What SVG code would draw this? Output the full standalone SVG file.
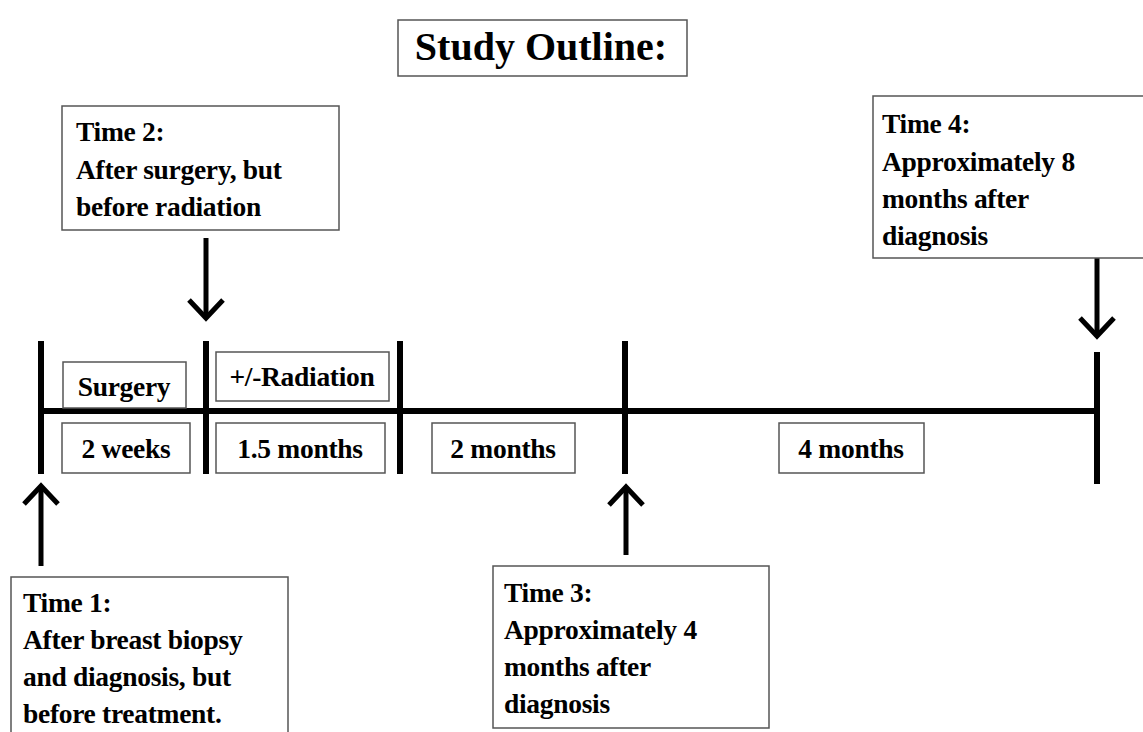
<svg xmlns="http://www.w3.org/2000/svg" width="1143" height="732" viewBox="0 0 1143 732">
<style>
.box{fill:#fff;stroke:#555;stroke-width:1.5}
.t{font-family:"Liberation Serif","Times New Roman",serif;font-weight:bold;fill:#000;font-size:27.5px;letter-spacing:-0.3px}
.c{text-anchor:middle}
.tl{stroke:#000;stroke-width:6;fill:none}
.ar{stroke:#000;stroke-width:5;fill:none;stroke-linejoin:miter}
</style>
<rect width="1143" height="732" fill="#fff"/>
<g id="title">
<rect class="box" x="398" y="20" width="289" height="56"/>
<text class="t c" x="541" y="60" style="font-size:40px;letter-spacing:0">Study Outline:</text>
</g>
<g id="connectors">
<line class="tl" x1="38" y1="411" x2="1097" y2="411"/>
<line class="tl" x1="41" y1="341" x2="41" y2="474"/>
<line class="tl" x1="206" y1="341" x2="206" y2="474"/>
<line class="tl" x1="400" y1="341" x2="400" y2="474"/>
<line class="tl" x1="625" y1="341" x2="625" y2="474"/>
<line class="tl" x1="1097" y1="352" x2="1097" y2="484"/>
<line class="ar" x1="41" y1="566" x2="41" y2="487"/>
<polyline class="ar" points="24,504 41,486 58,504"/>
<line class="ar" x1="206" y1="238" x2="206" y2="317"/>
<polyline class="ar" points="189,300 206,318 223,300"/>
<line class="ar" x1="626" y1="555" x2="626" y2="488"/>
<polyline class="ar" points="609,505 626,487 643,505"/>
<line class="ar" x1="1097" y1="258" x2="1097" y2="335"/>
<polyline class="ar" points="1080,318 1097,336 1114,318"/>
</g>
<g id="surgery">
<rect class="box" x="63" y="362" width="123" height="46"/>
<text class="t c" x="124" y="396">Surgery</text>
</g>
<g id="radiation">
<rect class="box" x="216" y="352" width="173" height="49"/>
<text class="t c" x="302" y="386">+/-Radiation</text>
</g>
<g id="d1">
<rect class="box" x="62" y="423" width="128" height="50"/>
<text class="t c" x="126" y="458">2 weeks</text>
</g>
<g id="d2">
<rect class="box" x="216" y="423" width="169" height="50"/>
<text class="t c" x="300" y="458">1.5 months</text>
</g>
<g id="d3">
<rect class="box" x="432" y="423" width="143" height="50"/>
<text class="t c" x="503" y="458">2 months</text>
</g>
<g id="d4">
<rect class="box" x="779" y="423" width="145" height="50"/>
<text class="t c" x="851" y="458">4 months</text>
</g>
<g id="time1">
<rect class="box" x="11" y="577" width="277" height="170"/>
<text class="t" x="23" y="612">Time 1:</text>
<text class="t" x="23" y="649">After breast biopsy</text>
<text class="t" x="23" y="686">and diagnosis, but</text>
<text class="t" x="23" y="723">before treatment.</text>
</g>
<g id="time2">
<rect class="box" x="62" y="106" width="277" height="124"/>
<text class="t" x="76" y="141">Time 2:</text>
<text class="t" x="76" y="179">After surgery, but</text>
<text class="t" x="76" y="216">before radiation</text>
</g>
<g id="time3">
<rect class="box" x="493" y="566" width="276" height="162"/>
<text class="t" x="504" y="602">Time 3:</text>
<text class="t" x="504" y="639">Approximately 4</text>
<text class="t" x="504" y="676">months after</text>
<text class="t" x="504" y="713">diagnosis</text>
</g>
<g id="time4">
<rect class="box" x="873" y="96" width="280" height="162"/>
<text class="t" x="882" y="133">Time 4:</text>
<text class="t" x="882" y="171">Approximately 8</text>
<text class="t" x="882" y="208">months after</text>
<text class="t" x="882" y="245">diagnosis</text>
</g>
</svg>
